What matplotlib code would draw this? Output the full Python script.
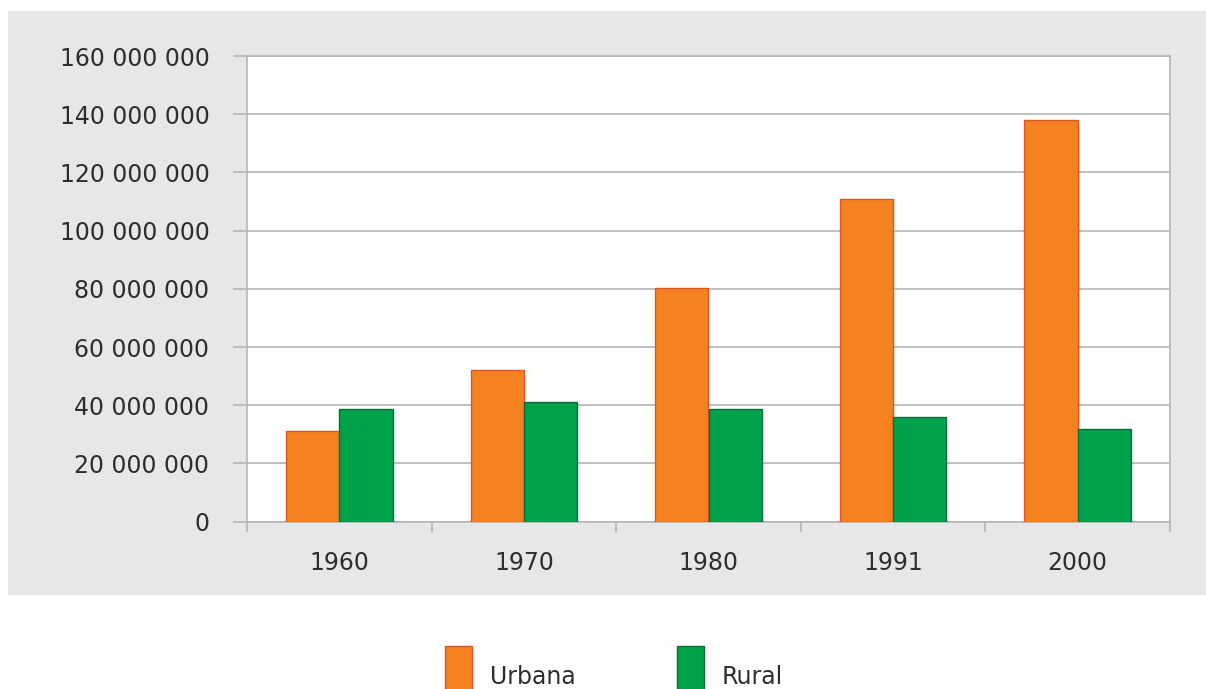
import matplotlib
matplotlib.use("Agg")
import matplotlib.pyplot as plt
from matplotlib.patches import Rectangle
from matplotlib.ticker import FuncFormatter, MultipleLocator

# População residente por situação do domicílio
years = ["1960", "1970", "1980", "1991", "2000"]
urbana = [31_300_000, 52_100_000, 80_400_000, 110_900_000, 137_900_000]
rural = [38_800_000, 41_100_000, 38_600_000, 36_000_000, 31_800_000]
series_labels = ["Urbana", "Rural"]

ORANGE, ORANGE_EDGE = "#f58220", "#e2532a"
GREEN, GREEN_EDGE = "#00a14b", "#0b6b35"
PANEL = "#e6e7e8"
GRID = "#b5b5b5"
INK = "#2e2e2e"

W, H = 1206, 689
fig = plt.figure(figsize=(W / 100, H / 100), dpi=100)
fig.patch.set_facecolor("white")

# grey panel behind the chart
fig.patches.append(Rectangle((8 / W, 1 - 595 / H), 1 - 8 / W, (595 - 11) / H,
                             transform=fig.transFigure, facecolor=PANEL,
                             edgecolor="none", zorder=-10))

ax = fig.add_axes([247 / W, 1 - 521.7 / H, (1170 - 247) / W, (521.7 - 56) / H])
ax.set_facecolor("white")
ax.set_zorder(1)

x = list(range(len(years)))
w = 0.289
ax.bar([i - w / 2 for i in x], urbana, w, color=ORANGE, edgecolor=ORANGE_EDGE,
       linewidth=1.0, zorder=3)
ax.bar([i + w / 2 for i in x], rural, w, color=GREEN, edgecolor=GREEN_EDGE,
       linewidth=1.0, zorder=3)

ax.set_xlim(-0.5, len(years) - 0.5)
ax.set_ylim(0, 160_000_000)
ax.yaxis.set_major_locator(MultipleLocator(20_000_000))
ax.yaxis.set_major_formatter(
    FuncFormatter(lambda v, _: f"{int(v):,}".replace(",", " ")))
ax.grid(axis="y", color=GRID, linewidth=1.2, zorder=1)

# year labels centred, tick marks on the category boundaries
ax.set_xticks(x)
ax.set_xticklabels(years)
ax.set_xticks([i - 0.5 for i in range(len(years) + 1)], minor=True)
ax.tick_params(axis="x", which="major", length=0, pad=21, labelsize=17,
               labelcolor=INK)
ax.tick_params(axis="x", which="minor", length=7, width=1.2, color=GRID)
ax.tick_params(axis="y", length=10, width=1.2, color=GRID, pad=17,
               labelsize=17, labelcolor=INK)

for side in ("left", "right", "bottom", "top"):
    ax.spines[side].set_color(GRID)
    ax.spines[side].set_linewidth(1.2)

# legend under the panel
for (lx, color, edge), label in zip([(445, ORANGE, ORANGE_EDGE),
                                     (677, GREEN, GREEN_EDGE)], series_labels):
    fig.patches.append(Rectangle((lx / W, -0.01), 27 / W, (H - 646) / H + 0.01,
                                 transform=fig.transFigure, facecolor=color,
                                 edgecolor=edge, linewidth=1.0))
    fig.text((lx + 45) / W, 5 / H, label, fontsize=17, color=INK,
             ha="left", va="baseline")

fig.savefig("out.png", dpi=100, facecolor="white")
